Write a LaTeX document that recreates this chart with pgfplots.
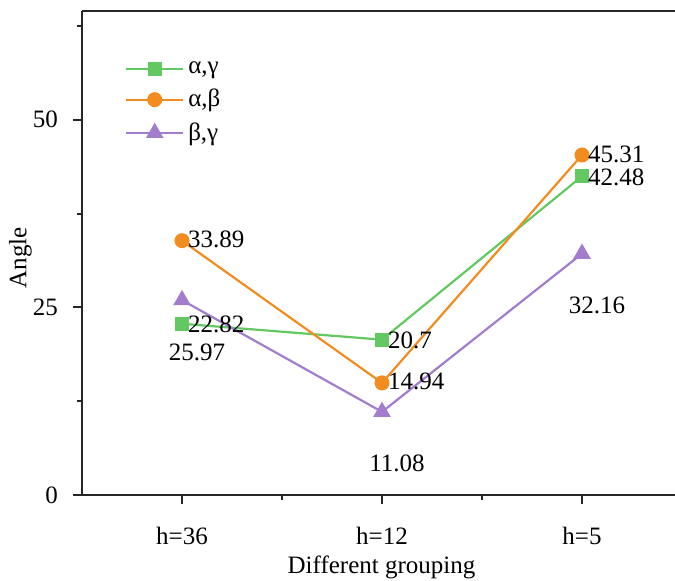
\documentclass[border=0pt]{standalone}
\usepackage{fontspec}
\setmainfont{Liberation Serif}
\usepackage{pgfplots}
\pgfplotsset{compat=1.18}
\definecolor{cgreen}{RGB}{98,200,98}
\definecolor{corange}{RGB}{242,140,32}
\definecolor{cpurple}{RGB}{162,125,205}
\begin{document}
\begin{tikzpicture}[font=\fontsize{12.5}{15}\selectfont]
\begin{axis}[
  scale only axis, width=296.5pt, height=242pt,
  xmin=-0.5, xmax=2.465, ymin=0, ymax=64.5,
  clip=false,
  axis lines=left,
  axis line style={-, line width=1.2pt, black!85},
  tick align=outside,
  major tick length=4.5pt, minor tick length=2.5pt,
  tick style={black!85, line width=1pt},
  xtick={0,1,2}, xticklabels={h=36,h=12,h=5},
  minor xtick={0.5,1.5},
  ytick={0,25,50}, minor ytick={12.5,37.5,62.5},
  /pgf/number format/assume math mode=true,
  xticklabel style={yshift=-8pt},
  yticklabel style={xshift=-4pt},
  xlabel={Different grouping}, ylabel={Angle},
  xlabel style={at={(axis description cs:0.505,-0.15)}, anchor=center},
  ylabel style={at={(axis description cs:-0.104,0.49)}, anchor=center},
  legend style={at={(axis description cs:0.062,0.912)}, anchor=north west, draw=none, fill=none, row sep=2.3pt},
  legend cell align=left,
  legend image code/.code={\draw[mark repeat=2,mark phase=2,#1] plot coordinates {(0cm,0cm) (0.5cm,0cm) (1cm,0cm)};},
]
\addplot[cgreen, line width=1.1pt, mark=square*, mark size=3pt, mark options={solid},
  nodes near coords, point meta=explicit symbolic,
  nodes near coords style={anchor=west, text=black, xshift=2.5pt, yshift=-0.5pt, inner sep=0pt}]
  coordinates {(0,22.82)[22.82] (1,20.7)[20.7] (2,42.48)[42.48]};
\addlegendentry{α,γ}
\addplot[corange, line width=1.1pt, mark=*, mark size=3.2pt, mark options={solid},
  nodes near coords, point meta=explicit symbolic,
  nodes near coords style={anchor=west, text=black, xshift=2.5pt, yshift=0.5pt, inner sep=0pt}]
  coordinates {(0,33.89)[33.89] (1,14.94)[14.94] (2,45.31)[45.31]};
\addlegendentry{α,β}
\addplot[cpurple, line width=1.1pt, mark=triangle*, mark size=4pt, mark options={solid},
  nodes near coords, point meta=explicit symbolic,
  nodes near coords style={anchor=center, text=black, xshift=7.5pt, yshift=-26pt, inner sep=1pt}]
  coordinates {(0,25.97)[25.97] (1,11.08)[11.08] (2,32.16)[32.16]};
\addlegendentry{β,γ}
\draw[line width=1.2pt, black!85] (rel axis cs:0,1) -- (rel axis cs:1,1);
\end{axis}
\pgfresetboundingbox
\path[use as bounding box] (-41pt,-42.5pt) rectangle (296.5pt,247.5pt);
\end{tikzpicture}
\end{document}
